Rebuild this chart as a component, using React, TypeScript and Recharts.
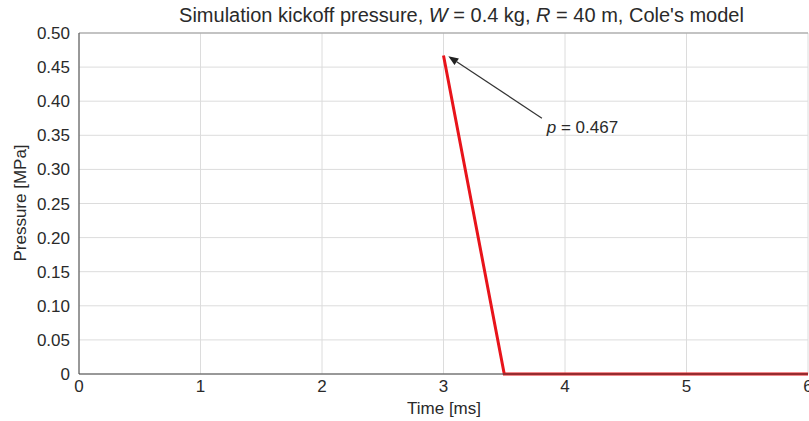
import React from "react";
import {
  LineChart,
  Line,
  XAxis,
  YAxis,
  CartesianGrid,
  ReferenceLine,
  ReferenceDot,
} from "recharts";

// kickoff pressure trace (time in ms, pressure in MPa)
const times = [3, 3.5, 6];
const pressures = [0.467, 0, 0];

const xTicks = [0, 1, 2, 3, 4, 5, 6];
const yTicks = [0, 0.05, 0.1, 0.15, 0.2, 0.25, 0.3, 0.35, 0.4, 0.45, 0.5];

// annotation: arrow from label to peak
const arrowFrom = { x: 3.81, y: 0.375 };
const arrowTo = { x: 3.04, y: 0.466 };
const peakLabelAt = { x: 3.85, y: 0.362 };
const peakLabel = "0.467";

const data = times.map((t, i) => ({ t, p: pressures[i] }));

const FONT = "'Liberation Sans', Arial, Helvetica, sans-serif";
const TXT = "#2a2a2a";

function fmtY(v: number) {
  return v === 0 ? "0" : v.toFixed(2);
}

function ArrowShape(props: any) {
  const { x1, y1, x2, y2 } = props;
  // x1,y1 = from; x2,y2 = to (arrow head)
  const ang = Math.atan2(y2 - y1, x2 - x1);
  const len = 10;
  const w = 4;
  const bx = x2 - len * Math.cos(ang);
  const by = y2 - len * Math.sin(ang);
  const px = -Math.sin(ang) * w;
  const py = Math.cos(ang) * w;
  return (
    <g>
      <line x1={x1} y1={y1} x2={bx} y2={by} stroke="#333" strokeWidth={1.2} />
      <polygon
        points={`${x2},${y2} ${bx + px},${by + py} ${bx - px},${by - py}`}
        fill="#222"
      />
    </g>
  );
}

function PeakText(props: any) {
  const { cx, cy } = props;
  return (
    <text
      x={cx}
      y={cy}
      dy="0.35em"
      fontSize={17}
      fontFamily={FONT}
      fill={TXT}
    >
      <tspan fontStyle="italic">p</tspan>
      <tspan> = {peakLabel}</tspan>
    </text>
  );
}

export default function App() {
  return (
    <div
      style={{
        position: "absolute",
        left: 0,
        top: 0,
        width: 809,
        height: 421,
        background: "#fff",
        fontFamily: FONT,
        overflow: "hidden",
      }}
    >
      <div
        style={{
          position: "absolute",
          left: 97,
          width: 729,
          top: 4,
          textAlign: "center",
          fontSize: 20,
          color: TXT,
          whiteSpace: "nowrap",
        }}
      >
        Simulation kickoff pressure, <i>W</i> = 0.4 kg, <i>R</i> = 40 m, Cole's model
      </div>
      <div
        style={{
          position: "absolute",
          left: 21,
          top: 203,
          transform: "translate(-50%, -50%) rotate(-90deg)",
          fontSize: 17,
          color: TXT,
          whiteSpace: "nowrap",
        }}
      >
        Pressure [MPa]
      </div>
      <div
        style={{
          position: "absolute",
          left: 444,
          top: 409,
          transform: "translate(-50%, -50%)",
          fontSize: 17,
          color: TXT,
          whiteSpace: "nowrap",
        }}
      >
        Time [ms]
      </div>
      <LineChart
        width={809}
        height={421}
        data={data}
        margin={{ top: 33, right: 1, left: 0, bottom: 0 }}
        style={{ position: "absolute", left: 0, top: 0 }}
      >
        <CartesianGrid stroke="#dcdcdc" strokeWidth={1} />
        <XAxis
          dataKey="t"
          type="number"
          domain={[0, 6]}
          ticks={xTicks}
          height={47}
          tickLine={false}
          axisLine={{ stroke: "#444" }}
          tick={{ fontSize: 17, fill: TXT, fontFamily: FONT }}
          tickMargin={0}
          interval={0}
        />
        <YAxis
          type="number"
          domain={[0, 0.5]}
          ticks={yTicks}
          width={79}
          tickLine={false}
          axisLine={{ stroke: "#444" }}
          tick={{ fontSize: 17, fill: TXT, fontFamily: FONT }}
          tickFormatter={fmtY}
          tickMargin={3}
          interval={0}
        />
        <ReferenceLine y={0.5} stroke="#999" />
        <Line
          dataKey="p"
          stroke="#e8141b"
          strokeWidth={3}
          dot={false}
          isAnimationActive={false}
        />
        <ReferenceLine
          segment={[arrowFrom, arrowTo]}
          shape={ArrowShape}
          ifOverflow="visible"
        />
        <ReferenceDot
          x={peakLabelAt.x}
          y={peakLabelAt.y}
          r={0}
          shape={PeakText}
          ifOverflow="visible"
        />
      </LineChart>
    </div>
  );
}
